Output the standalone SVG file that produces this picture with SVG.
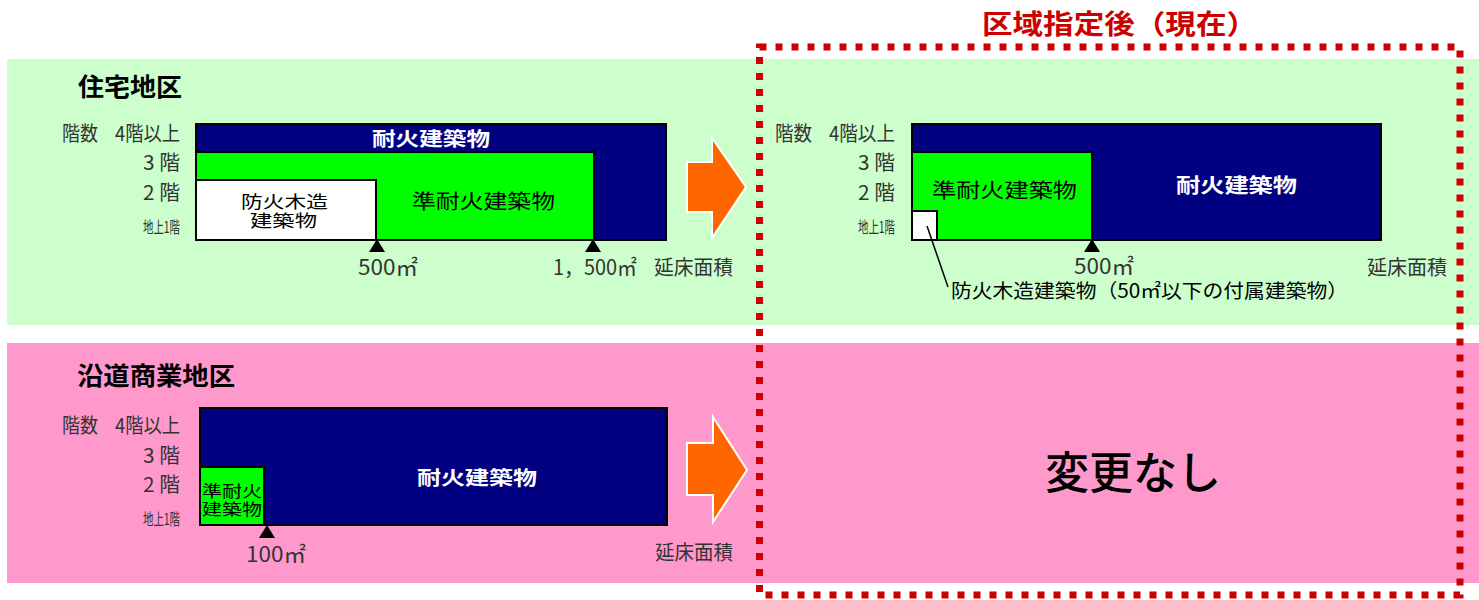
<svg xmlns="http://www.w3.org/2000/svg" width="1479" height="600" viewBox="0 0 1479 600">
<style>
text{font-family:"Noto Sans CJK JP","Noto Sans",sans-serif}
.lbl{font-size:20px;fill:#333}
.sm{font-size:16px;fill:#333}
.num{font-size:21px;fill:#333}
.ttl{font-size:25px;font-weight:bold;fill:#000}
.wb{font-size:19px;font-weight:bold;fill:#fff}
.bk{font-size:20px;fill:#000}
.navy{fill:#000080;stroke:#000;stroke-width:2}
.grn{fill:#00FF00;stroke:#000;stroke-width:2}
.wht{fill:#fff;stroke:#000;stroke-width:2}
.tri{fill:#000}
.arr{fill:#FF6600;stroke:#fff;stroke-width:2}
</style>
<rect width="1479" height="600" fill="#fff"/>
<g id="bands">
<rect x="7" y="59" width="1472" height="266" fill="#CCFFCC"/>
<rect x="7" y="343" width="1472" height="240" fill="#FF99CC"/>
</g>
<g id="title">
<text x="982" y="34" textLength="275" lengthAdjust="spacingAndGlyphs" style="font-size:27px;font-weight:bold;fill:#CC0000">区域指定後（現在）</text>
</g>
<g id="residential">
<text class="ttl" x="78" y="96" textLength="104" lengthAdjust="spacingAndGlyphs">住宅地区</text>
<text class="lbl" x="62" y="141" textLength="36" lengthAdjust="spacingAndGlyphs">階数</text>
<text class="lbl" x="115" y="141" textLength="65" lengthAdjust="spacingAndGlyphs">4階以上</text>
<text class="lbl" x="143" y="170" textLength="37" lengthAdjust="spacingAndGlyphs">3 階</text>
<text class="lbl" x="143" y="200" textLength="37" lengthAdjust="spacingAndGlyphs">2 階</text>
<text class="sm" x="143" y="233" textLength="37" lengthAdjust="spacingAndGlyphs">地上1階</text>
<rect class="navy" x="196" y="124" width="470" height="116"/>
<rect class="grn" x="196" y="152" width="398" height="88"/>
<rect class="wht" x="196" y="180" width="180" height="60"/>
<text class="wb" x="372" y="146" textLength="118" lengthAdjust="spacingAndGlyphs">耐火建築物</text>
<text class="bk" x="412" y="209" textLength="143" lengthAdjust="spacingAndGlyphs">準耐火建築物</text>
<text class="bk" x="241" y="208" textLength="87" lengthAdjust="spacingAndGlyphs" style="font-size:17px">防火木造</text>
<text class="bk" x="250" y="227" textLength="67" lengthAdjust="spacingAndGlyphs" style="font-size:17px">建築物</text>
<polygon class="tri" points="369,252 385,252 377,239"/>
<polygon class="tri" points="585,252 601,252 593,239"/>
<text class="num" x="358" y="275" textLength="60" lengthAdjust="spacingAndGlyphs">500㎡</text>
<text class="num" x="553" y="275" textLength="84" lengthAdjust="spacingAndGlyphs">1，500㎡</text>
<text class="lbl" x="654" y="275" textLength="79" lengthAdjust="spacingAndGlyphs">延床面積</text>
</g>
<g id="residential-after">
<text class="lbl" x="775" y="141" textLength="37" lengthAdjust="spacingAndGlyphs">階数</text>
<text class="lbl" x="829" y="141" textLength="66" lengthAdjust="spacingAndGlyphs">4階以上</text>
<text class="lbl" x="858" y="170" textLength="37" lengthAdjust="spacingAndGlyphs">3 階</text>
<text class="lbl" x="858" y="200" textLength="37" lengthAdjust="spacingAndGlyphs">2 階</text>
<text class="sm" x="858" y="233" textLength="37" lengthAdjust="spacingAndGlyphs">地上1階</text>
<rect class="navy" x="912" y="124" width="469" height="116"/>
<rect class="grn" x="912" y="152" width="180" height="88"/>
<rect class="wht" x="912" y="211" width="25" height="29"/>
<text class="bk" x="932" y="198" textLength="145" lengthAdjust="spacingAndGlyphs">準耐火建築物</text>
<text class="wb" x="1176" y="193" textLength="121" lengthAdjust="spacingAndGlyphs" style="font-size:20px">耐火建築物</text>
<polygon class="tri" points="1084,252 1100,252 1092,239"/>
<text class="num" x="1074" y="274" textLength="60" lengthAdjust="spacingAndGlyphs">500㎡</text>
<text class="lbl" x="1367" y="275" textLength="80" lengthAdjust="spacingAndGlyphs">延床面積</text>
<line x1="927" y1="226" x2="948" y2="287" stroke="#000" stroke-width="1.5"/>
<text class="bk" x="951" y="298" textLength="397" lengthAdjust="spacingAndGlyphs" style="font-size:19.5px">防火木造建築物（50㎡以下の付属建築物）</text>
</g>
<g id="roadside">
<text class="ttl" x="77" y="385" textLength="158" lengthAdjust="spacingAndGlyphs">沿道商業地区</text>
<text class="lbl" x="62" y="433" textLength="36" lengthAdjust="spacingAndGlyphs">階数</text>
<text class="lbl" x="115" y="433" textLength="65" lengthAdjust="spacingAndGlyphs">4階以上</text>
<text class="lbl" x="143" y="463" textLength="37" lengthAdjust="spacingAndGlyphs">3 階</text>
<text class="lbl" x="143" y="492" textLength="37" lengthAdjust="spacingAndGlyphs">2 階</text>
<text class="sm" x="143" y="525" textLength="37" lengthAdjust="spacingAndGlyphs">地上1階</text>
<rect class="navy" x="200" y="408" width="467" height="117"/>
<rect class="grn" x="200" y="467" width="64" height="58"/>
<text class="wb" x="417" y="485" textLength="120" lengthAdjust="spacingAndGlyphs">耐火建築物</text>
<text class="bk" x="202" y="497" textLength="60" lengthAdjust="spacingAndGlyphs" style="font-size:16px">準耐火</text>
<text class="bk" x="202" y="515" textLength="60" lengthAdjust="spacingAndGlyphs" style="font-size:16px">建築物</text>
<polygon class="tri" points="259,538 275,538 267,525"/>
<text class="num" x="246" y="562" textLength="60" lengthAdjust="spacingAndGlyphs">100㎡</text>
<text class="lbl" x="655" y="560" textLength="78" lengthAdjust="spacingAndGlyphs">延床面積</text>
</g>
<g id="roadside-after">
<text x="1133" y="489" text-anchor="middle" style="font-size:44px;font-weight:500;fill:#000">変更なし</text>
</g>
<g id="connectors">
<polygon class="arr" points="687,162 712,162 712,138 746,187 712,238 712,212 687,212"/>
<polygon class="arr" points="687,443 713,443 713,417 747,470 713,522 713,495 687,495"/>
</g>
<g id="frame">
<rect x="759.5" y="47" width="700.5" height="548" fill="none" stroke="#CC0000" stroke-width="7" stroke-dasharray="7 9"/>
</g>
</svg>
